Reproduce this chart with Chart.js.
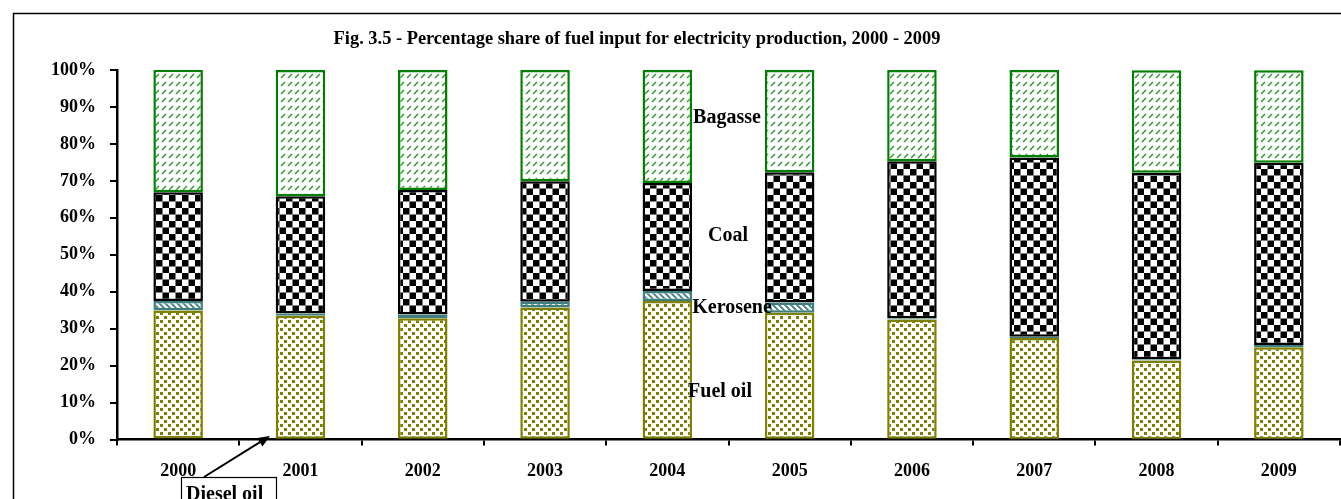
<!DOCTYPE html>
<html>
<head>
<meta charset="utf-8">
<title>Fig. 3.5 - Fuel input for electricity production</title>
<script src="https://cdn.jsdelivr.net/npm/chart.js@4.4.1/dist/chart.umd.min.js"></script>
<style>
    html, body { margin: 0; padding: 0; background: #fff; overflow: hidden; }
    #wrap { position: relative; width: 1341px; height: 499px; }
</style>
</head>
<body>
<div id="wrap"><canvas id="chartFuel" width="1341" height="499"></canvas></div>
<script>
// ══════════════════════════════════════════════
// DATA (% of total fuel input)
// ══════════════════════════════════════════════

const years = ['2000', '2001', '2002', '2003', '2004', '2005', '2006', '2007', '2008', '2009'];

const dieselOil = [0.3, 0.2, 0.2, 0.2, 0.2, 0.2, 0.2, 0.1, 0.1, 0.1];
const fuelOil   = [34.6, 33.3, 32.6, 35.5, 37.3, 34.1, 32.3, 27.4, 21.3, 24.9];
const kerosene  = [2.6, 0.6, 1.0, 1.6, 2.7, 2.8, 0.3, 0.3, 0.3, 0.6];
const coal      = [29.4, 31.7, 33.7, 32.6, 29.2, 35.2, 42.5, 48.5, 50.5, 49.3];
const bagasse   = [33.2, 34.2, 32.5, 30.1, 30.6, 27.7, 24.7, 23.7, 27.7, 25.0];

const yTicks = [0, 10, 20, 30, 40, 50, 60, 70, 80, 90, 100];

const TITLE = 'Fig. 3.5 - Percentage share of fuel input for electricity production, 2000 - 2009';


// ══════════════════════════════════════════════
// FILL PATTERNS (Excel style)
// ══════════════════════════════════════════════

function makePattern(w, h, draw) {
    const c = document.createElement('canvas');
    c.width = w;
    c.height = h;
    const g = c.getContext('2d');
    g.fillStyle = '#ffffff';
    g.fillRect(0, 0, w, h);
    draw(g);
    return document.createElement('canvas').getContext('2d').createPattern(c, 'repeat');
}

// olive speckles
const fuelPattern = makePattern(8, 8, g => {
    g.fillStyle = '#7f7f00';
    g.fillRect(0, 0, 3, 3);
    g.fillRect(4, 4, 3, 3);
});

// teal diagonal stripes
const kerosenePattern = makePattern(6, 6, g => {
    g.strokeStyle = '#3f7f80';
    g.lineWidth = 1.8;
    g.beginPath();
    g.moveTo(-1, -1); g.lineTo(7, 7);
    g.moveTo(-4, 2); g.lineTo(4, 10);
    g.moveTo(2, -4); g.lineTo(10, 4);
    g.stroke();
});

// black & white checkerboard
const coalPattern = makePattern(13, 13, g => {
    g.fillStyle = '#000000';
    g.fillRect(0, 0, 6.5, 6.5);
    g.fillRect(6.5, 6.5, 6.5, 6.5);
});

// small green dashes
const bagassePattern = makePattern(7, 8, g => {
    g.strokeStyle = '#2f962f';
    g.lineWidth = 1.5;
    g.beginPath();
    g.moveTo(1, 6); g.lineTo(5, 2);
    g.stroke();
});


// ══════════════════════════════════════════════
// OVERLAY: frame, title, series labels, arrow
// ══════════════════════════════════════════════

const overlayPlugin = {
    id: 'overlay',
    afterDraw(chart) {
        const ctx = chart.ctx;
        ctx.save();

        // outer frame
        ctx.strokeStyle = '#000';
        ctx.lineWidth = 1.5;
        ctx.strokeRect(13.5, 13.5, 1400, 600);

        ctx.fillStyle = '#000';
        ctx.textAlign = 'center';
        ctx.textBaseline = 'alphabetic';

        ctx.font = "bold 18.4px 'Liberation Serif', 'Times New Roman', serif";
        ctx.fillText(TITLE, 637, 44);

        ctx.font = "bold 20px 'Liberation Serif', 'Times New Roman', serif";
        ctx.fillText('Bagasse', 727, 123);
        ctx.fillText('Coal', 728, 241);
        ctx.fillText('Kerosene', 732, 313);
        ctx.fillText('Fuel oil', 720, 397);

        // Diesel oil callout
        ctx.textAlign = 'left';
        ctx.fillText('Diesel oil', 186, 500);
        ctx.lineWidth = 1.2;
        ctx.strokeRect(181.5, 477.5, 95, 30);

        const x0 = 204, y0 = 477, x1 = 270, y1 = 436;
        const ang = Math.atan2(y1 - y0, x1 - x0);
        ctx.lineWidth = 2;
        ctx.beginPath();
        ctx.moveTo(x0, y0);
        ctx.lineTo(x1 - 8 * Math.cos(ang), y1 - 8 * Math.sin(ang));
        ctx.stroke();
        ctx.beginPath();
        ctx.moveTo(x1, y1);
        ctx.lineTo(x1 - 12 * Math.cos(ang) + 5 * Math.sin(ang), y1 - 12 * Math.sin(ang) - 5 * Math.cos(ang));
        ctx.lineTo(x1 - 12 * Math.cos(ang) - 5 * Math.sin(ang), y1 - 12 * Math.sin(ang) + 5 * Math.cos(ang));
        ctx.closePath();
        ctx.fill();

        ctx.restore();
    }
};


// ══════════════════════════════════════════════
// CHART
// ══════════════════════════════════════════════

function series(label, data, fill, border, width) {
    return {
        label: label,
        data: data,
        backgroundColor: fill,
        borderColor: border,
        borderWidth: width,
        borderSkipped: false,
        barPercentage: 0.405,
        categoryPercentage: 1
    };
}

const tickFont = { family: "'Liberation Serif', 'Times New Roman', serif", weight: 'bold' };

new Chart(document.getElementById('chartFuel'), {
    type: 'bar',
    data: {
        labels: years,
        datasets: [
            series('Diesel oil', dieselOil, '#3a3a3a', '#3a3a3a', 0),
            series('Fuel oil', fuelOil, fuelPattern, '#808000', 2.5),
            series('Kerosene', kerosene, kerosenePattern, '#3f7f80', 2.5),
            series('Coal', coal, coalPattern, '#000000', 2.5),
            series('Bagasse', bagasse, bagassePattern, '#008000', 2.5)
        ]
    },
    options: {
        responsive: false,
        animation: false,
        layout: { padding: { top: 70, left: 0, right: 1, bottom: 0 } },
        plugins: {
            legend: { display: false },
            tooltip: { enabled: false },
            title: { display: false }
        },
        scales: {
            x: {
                stacked: true,
                border: { color: '#000', width: 2.5 },
                grid: {
                    offset: true,
                    drawOnChartArea: false,
                    drawTicks: true,
                    tickLength: 6,
                    color: '#000',
                    lineWidth: 2
                },
                ticks: {
                    color: '#000',
                    font: Object.assign({ size: 18 }, tickFont),
                    padding: 15,
                    maxRotation: 0
                },
                afterFit: s => { s.height = 59.5; }
            },
            y: {
                stacked: true,
                min: 0,
                max: 100,
                afterBuildTicks: s => { s.ticks = yTicks.map(v => ({ value: v })); },
                border: { color: '#000', width: 2.5 },
                grid: {
                    drawOnChartArea: false,
                    drawTicks: true,
                    tickLength: 7,
                    color: '#000',
                    lineWidth: 2
                },
                ticks: {
                    color: '#000',
                    font: Object.assign({ size: 18 }, tickFont),
                    padding: 14,
                    callback: v => v + '%'
                },
                afterFit: s => { s.width = 117; }
            }
        }
    },
    plugins: [overlayPlugin]
});
</script>
</body>
</html>
